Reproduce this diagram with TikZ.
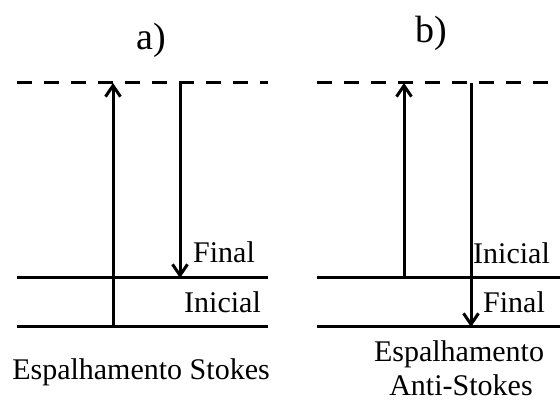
\documentclass[tikz,border=0pt]{standalone}
\usepackage{fontspec}
\setmainfont{Liberation Serif}
\usetikzlibrary{arrows.meta}
\begin{document}
\begin{tikzpicture}[x=1pt,y=-1pt,
  level/.style={line width=3pt},
  virtual/.style={line width=3pt,dash pattern=on 15pt off 12pt},
  transition/.style={line width=3pt,-{Straight Barb[length=11pt,width=15pt]}},
  lbl/.style={font=\fontsize{30}{32}\selectfont,inner sep=0pt,anchor=base west},
  caption/.style={font=\fontsize{30}{36}\selectfont,inner sep=0pt,anchor=base},
  panel/.style={font=\fontsize{38}{40}\selectfont,inner sep=0pt,anchor=base}]
\useasboundingbox (0,0) rectangle (560,403);

% ---- a) Stokes scattering ----
\node[panel] (ta) at (151,50) {a)};
\coordinate (aVl) at (17,83);  \coordinate (aVr) at (268,83);
\coordinate (aFl) at (17,278); \coordinate (aFr) at (268,278);
\coordinate (aIl) at (17,327); \coordinate (aIr) at (268,327);
\draw[virtual] (aVl) -- (aVr);
\draw[level] (aFl) -- (aFr);
\draw[level] (aIl) -- (aIr);
\coordinate (aUpS) at (113,327); \coordinate (aUpE) at (113,83);
\coordinate (aDnS) at (180,83);  \coordinate (aDnE) at (180,278);
\draw[transition] (aUpS) -- (aUpE);
\draw[transition] (aDnS) -- (aDnE);
\node[lbl] (aFin) at (193,263) {Final};
\node[lbl] (aIni) at (184,313) {Inicial};
\node[caption] (aCap) at (141,380) {Espalhamento Stokes};

% ---- b) anti-Stokes scattering ----
\node[panel] (tb) at (431,43) {b)};
\coordinate (bVl) at (317,83);  \coordinate (bVr) at (560,83);
\coordinate (bIl) at (317,278); \coordinate (bIr) at (560,278);
\coordinate (bFl) at (317,327); \coordinate (bFr) at (560,327);
\draw[virtual] (bVl) -- (bVr);
\draw[level] (bIl) -- (bIr);
\draw[level] (bFl) -- (bFr);
\coordinate (bUpS) at (404,278); \coordinate (bUpE) at (404,83);
\coordinate (bDnS) at (471,83);  \coordinate (bDnE) at (471,327);
\draw[transition] (bUpS) -- (bUpE);
\draw[transition] (bDnS) -- (bDnE);
\node[lbl] (bIni) at (473,264) {Inicial};
\node[lbl] (bFin) at (483,313) {Final};
\node[caption] (bCap1) at (459,362) {Espalhamento};
\node[caption] (bCap2) at (461,396) {Anti-Stokes};
\end{tikzpicture}
\end{document}
